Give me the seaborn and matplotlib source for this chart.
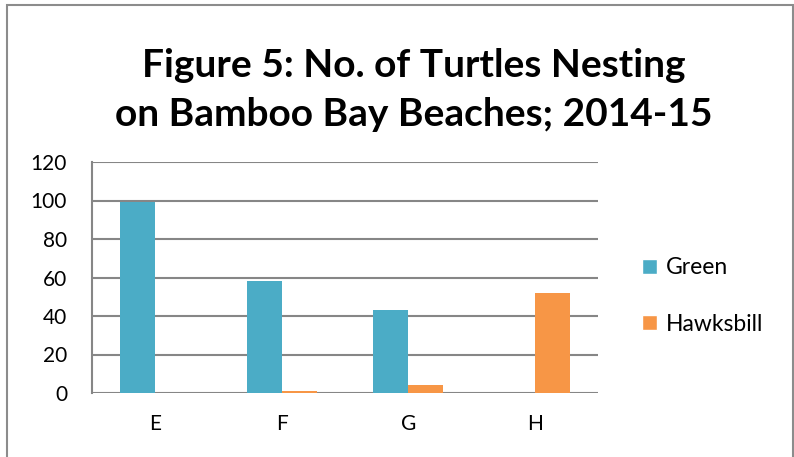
import pandas as pd
import seaborn as sns
import matplotlib.pyplot as plt
from matplotlib.patches import Rectangle, Patch

beaches = ['E', 'F', 'G', 'H']
green = [99, 58, 43, 0]
hawksbill = [0, 1, 4, 52]
species = ['Green', 'Hawksbill']
colors = ['#4BACC6', '#F79646']

df = pd.DataFrame({
    'Beach': beaches * 2,
    'Species': ['Green'] * 4 + ['Hawksbill'] * 4,
    'Count': green + hawksbill})

sns.set_style('white')
plt.rcParams['font.family'] = ['Lato', 'DejaVu Sans']
plt.rcParams['text.color'] = 'black'
plt.rcParams['xtick.color'] = 'black'
plt.rcParams['ytick.color'] = 'black'

fig = plt.figure(figsize=(7.94, 4.57), dpi=100)
ax = fig.add_axes([92/794, 1-393/457, 506/794, 231/457])

sns.barplot(data=df, x='Beach', y='Count', hue='Species', palette=colors,
            width=0.553, saturation=1, ax=ax, legend=False, zorder=3, linewidth=0)

ax.set_ylim(0, 120)
ax.set_yticks(range(0, 121, 20))
ax.set_xlim(-0.5, 3.5)
ax.grid(axis='y', color='#868686', linewidth=1.5, zorder=0)
ax.set_axisbelow(True)
for s in ['top', 'right', 'bottom']:
    ax.spines[s].set_visible(False)
ax.spines['left'].set_color('#868686')
ax.spines['left'].set_linewidth(1.5)
ax.tick_params(axis='both', length=0, labelsize=15)
ax.tick_params(axis='x', pad=15)
ax.tick_params(axis='y', pad=18)
ax.set_xlabel('')
ax.set_ylabel('')

fig.text(0.521, 1-90/457, 'Figure 5: No. of Turtles Nesting\non Bamboo Bay Beaches; 2014-15',
         ha='center', va='center', fontsize=28, fontweight='bold', linespacing=1.5)

handles = [Patch(facecolor=c, label=s) for c, s in zip(colors, species)]
fig.legend(handles=handles, loc='center left', bbox_to_anchor=(621/794, 1-296/457),
           frameon=False, fontsize=16.5, handlelength=0.65, handleheight=0.65,
           handletextpad=0.4, labelspacing=1.55)

fig.patches.append(Rectangle((7/794, -0.05), 786/794, 1.05-5/457, transform=fig.transFigure,
                             fill=False, edgecolor='#8c8c8c', linewidth=1.5))

fig.savefig('out.png', dpi=100)
